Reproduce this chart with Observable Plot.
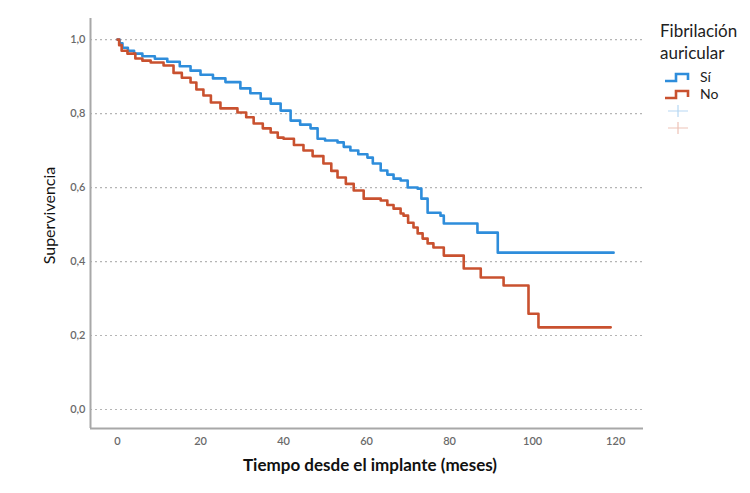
<!DOCTYPE html>
<html>
<head>
<meta charset="utf-8">
<script src="https://cdn.jsdelivr.net/npm/d3@7"></script>
<script src="https://cdn.jsdelivr.net/npm/@observablehq/plot@0.6"></script>
<style>
  html, body { margin: 0; padding: 0; background: #fff; }
  #wrap { position: relative; width: 750px; height: 493px; font-family: Lato, "Open Sans", sans-serif; }
  #legend { position: absolute; left: 660px; top: 20px; color: #222; }
  #legend .title { font-size: 17px; line-height: 22px; }
  #legend .row { display: flex; align-items: center; height: 17px; font-size: 14px; margin-left: 4px; }
  #legend svg { margin-right: 10px; }
</style>
</head>
<body>
<div id="wrap"></div>
<script>
// Survival curves (time in months, survival proportion)
const siTime = [0, 0.5, 1.2, 2.5, 4, 6, 9, 12, 15, 17.6, 20, 23, 26, 29.6, 32, 34.5, 36.9, 39.3, 41.7, 44, 46.5, 48.2, 50, 53, 54.5, 56.1, 58, 60.2, 61.5, 63.4, 65, 66.5, 68.2, 69.9, 72.3, 73.2, 74.7, 77.8, 78.6, 86.7, 91.6, 119.5];
const siSurv = [1.0, 0.99, 0.978, 0.97, 0.962, 0.955, 0.948, 0.94, 0.928, 0.916, 0.905, 0.895, 0.885, 0.868, 0.855, 0.84, 0.827, 0.808, 0.781, 0.77, 0.76, 0.732, 0.727, 0.722, 0.71, 0.70, 0.69, 0.681, 0.665, 0.646, 0.635, 0.624, 0.619, 0.60, 0.597, 0.57, 0.532, 0.524, 0.503, 0.478, 0.424, 0.424];

const noTime = [0, 0.4, 1, 2.4, 4.3, 6, 8, 11.1, 13.5, 15.5, 17.6, 19, 20.7, 22.5, 24.8, 28.9, 31, 32.8, 35, 36.9, 38.6, 40, 42.5, 44.8, 47, 49.6, 51.5, 53, 55, 56.9, 59.3, 63.4, 65, 66.5, 68.2, 68.9, 70, 71.3, 72.3, 73.5, 74.7, 76.1, 78.6, 83.4, 87.5, 93, 99, 101.4, 118.8];
const noSurv = [1.0, 0.985, 0.97, 0.962, 0.949, 0.943, 0.938, 0.93, 0.91, 0.897, 0.884, 0.865, 0.849, 0.83, 0.814, 0.803, 0.79, 0.773, 0.76, 0.749, 0.735, 0.732, 0.715, 0.70, 0.685, 0.665, 0.645, 0.627, 0.61, 0.592, 0.57, 0.565, 0.553, 0.543, 0.53, 0.524, 0.505, 0.492, 0.476, 0.462, 0.449, 0.438, 0.416, 0.381, 0.357, 0.335, 0.259, 0.222, 0.222];

const groups = ["Sí", "No"];
const groupColors = ["#2e8ddb", "#c9512f"];
const xTicks = [0, 20, 40, 60, 80, 100, 120];
const yTicks = [0, 0.2, 0.4, 0.6, 0.8, 1.0];
const xLabel = "Tiempo desde el implante (meses)";
const yLabel = "Supervivencia";
const legendTitle = ["Fibrilación", "auricular"];

const xDomain = [-6.5, 126.7];
const yDomain = [-0.0514, 1.057];

const data = [
  ...siTime.map((t, i) => ({group: "Sí", t, s: siSurv[i]})),
  ...noTime.map((t, i) => ({group: "No", t, s: noSurv[i]}))
];

const chart = Plot.plot({
  width: 750,
  height: 493,
  marginLeft: 90,
  marginRight: 107,
  marginTop: 18,
  marginBottom: 65,
  style: {fontFamily: "Lato, 'Open Sans', sans-serif", background: "#fff"},
  x: {domain: xDomain, ticks: xTicks, label: null},
  y: {domain: yDomain, ticks: yTicks, label: null},
  color: {domain: groups, range: groupColors},
  marks: [
    Plot.ruleY(yTicks, {stroke: "#b5b5b5", strokeWidth: 1.2, strokeDasharray: "2,3"}),
    Plot.ruleX([xDomain[0]], {stroke: "#a8a8a8", strokeWidth: 2}),
    Plot.ruleY([yDomain[0]], {stroke: "#a8a8a8", strokeWidth: 2}),
    Plot.axisX({ticks: xTicks, tickSize: 0, tickPadding: 9, fontSize: 11, fontWeight: 600, fill: "#6a6a6a", label: null}),
    Plot.axisY({ticks: yTicks, tickSize: 0, tickPadding: 5, fontSize: 11, fontWeight: 600, fill: "#6a6a6a", label: null,
      tickFormat: d => d.toFixed(1).replace(".", ",")}),
    Plot.line(data, {x: "t", y: "s", z: "group", stroke: "group", strokeWidth: 2.6, curve: "step-after"}),
    Plot.text([yLabel], {frameAnchor: "left", textAnchor: "middle", dx: -41, dy: -8, rotate: -90, fontSize: 16, fill: "#111"}),
    Plot.text([xLabel], {frameAnchor: "bottom", textAnchor: "middle", dx: 3, dy: 42, fontSize: 17, fontWeight: "bold", fill: "#111"})
  ]
});

const wrap = document.getElementById("wrap");
wrap.appendChild(chart);

// legend
const leg = document.createElement("div");
leg.id = "legend";
let html = legendTitle.map(t => `<div class="title">${t}</div>`).join("");
html += `<div style="height:4px"></div>`;
groups.forEach((g, i) => {
  html += `<div class="row"><svg width="26" height="12"><path d="M1,10 H12 V3 H24 V9" fill="none" stroke="${groupColors[i]}" stroke-width="2.6"/></svg><span>${g}</span></div>`;
});
groups.forEach((g, i) => {
  html += `<div class="row"><svg width="26" height="14"><path d="M4,7 H24 M14,1 V13" fill="none" stroke="${groupColors[i]}" stroke-opacity="0.35" stroke-width="1.2"/></svg></div>`;
});
leg.innerHTML = html;
wrap.appendChild(leg);
</script>
</body>
</html>
